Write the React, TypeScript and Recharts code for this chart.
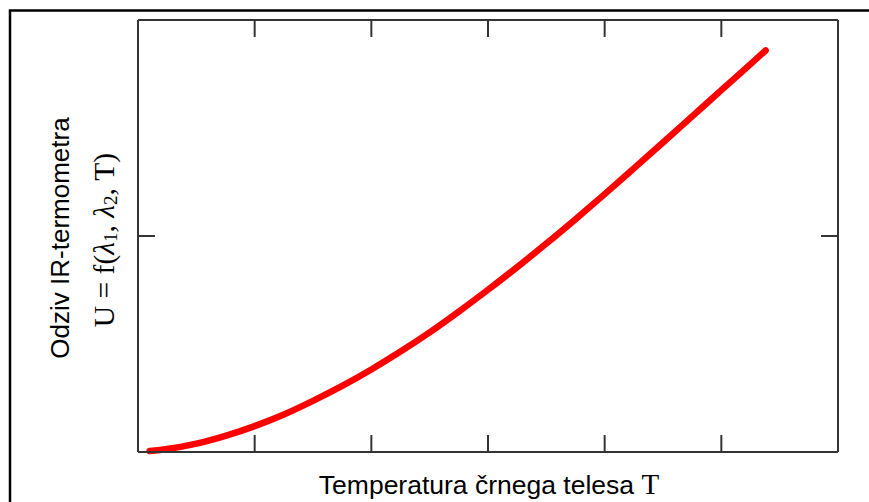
import { LineChart, Line, XAxis, YAxis } from 'recharts';

// Temperature (relative units) and detector response
const temps = [0.1, 0.25, 0.5, 0.75, 1.0, 1.25, 1.5, 1.75, 2.0, 2.25, 2.5, 2.75, 3.0, 3.25, 3.5, 3.75, 4.0, 4.25, 4.5, 4.75, 5.0, 5.25, 5.38];
const response = [0.005, 0.014, 0.039, 0.075, 0.12, 0.174, 0.237, 0.306, 0.382, 0.465, 0.554, 0.65, 0.751, 0.856, 0.965, 1.078, 1.194, 1.313, 1.433, 1.554, 1.675, 1.796, 1.859];

const xTicks = [1, 2, 3, 4, 5];
const yTicks = [1];

const xLabel = 'Temperatura črnega telesa';
const yLabel = 'Odziv IR-termometra';

const chartData = temps.map((t, i) => ({ t, u: response[i] }));

const axisColor = '#333';
const sans = '"Liberation Sans", Arial, sans-serif';
const serif = '"Liberation Serif", "Times New Roman", serif';

// keeps the tick lines but draws no tick text
const NoLabel = () => <g />;

export default function App() {
  return (
    <div style={{ position: 'absolute', left: 0, top: 0, width: 869, height: 502, background: '#fff' }}>
      <LineChart
        width={869}
        height={502}
        data={chartData}
        margin={{ top: 20, right: 31, bottom: 50, left: 138 }}
      >
        <XAxis
          xAxisId="bottom"
          dataKey="t"
          type="number"
          domain={[0, 6]}
          ticks={xTicks}
          interval={0}
          orientation="bottom"
          mirror
          tick={NoLabel}
          tickSize={17}
          stroke={axisColor}
          strokeWidth={2}
        />
        <XAxis
          xAxisId="top"
          dataKey="t"
          type="number"
          domain={[0, 6]}
          ticks={xTicks}
          interval={0}
          orientation="top"
          mirror
          tick={NoLabel}
          tickSize={17}
          stroke={axisColor}
          strokeWidth={2}
        />
        <YAxis
          yAxisId="left"
          dataKey="u"
          type="number"
          domain={[0, 2]}
          ticks={yTicks}
          interval={0}
          orientation="left"
          mirror
          tick={NoLabel}
          tickSize={17}
          stroke={axisColor}
          strokeWidth={2}
        />
        <YAxis
          yAxisId="right"
          dataKey="u"
          type="number"
          domain={[0, 2]}
          ticks={yTicks}
          interval={0}
          orientation="right"
          mirror
          tick={NoLabel}
          tickSize={17}
          stroke={axisColor}
          strokeWidth={2}
        />
        <Line
          xAxisId="bottom"
          yAxisId="left"
          dataKey="u"
          type="monotone"
          stroke="#ff0000"
          strokeWidth={6.5}
          strokeLinecap="round"
          dot={false}
          isAnimationActive={false}
        />
      </LineChart>

      {/* frame and axis titles */}
      <svg
        width={869}
        height={502}
        style={{ position: 'absolute', left: 0, top: 0, pointerEvents: 'none' }}
      >
        <rect x={10} y={10.5} width={900} height={600} fill="none" stroke="#000" strokeWidth={2.5} />

        <text x={489} y={494} textAnchor="middle" fill="#000">
          <tspan fontFamily={sans} fontSize={26.5}>{xLabel} </tspan>
          <tspan fontFamily={serif} fontSize={29}>T</tspan>
        </text>

        <text
          x={60}
          y={238}
          textAnchor="middle"
          dominantBaseline="central"
          fontFamily={sans}
          fontSize={26}
          fill="#000"
          transform="rotate(-90 60 238)"
        >
          {yLabel}
        </text>

        <text
          x={104}
          y={240}
          textAnchor="middle"
          dominantBaseline="central"
          fontFamily={serif}
          fontSize={29.5}
          fill="#000"
          transform="rotate(-90 104 240)"
        >
          <tspan>U = f(</tspan>
          <tspan fontStyle="italic">λ</tspan>
          <tspan fontSize={19} dy={6}>1</tspan>
          <tspan dy={-6}>, </tspan>
          <tspan fontStyle="italic">λ</tspan>
          <tspan fontSize={19} dy={6}>2</tspan>
          <tspan dy={-6}>, T)</tspan>
        </text>
      </svg>
    </div>
  );
}
